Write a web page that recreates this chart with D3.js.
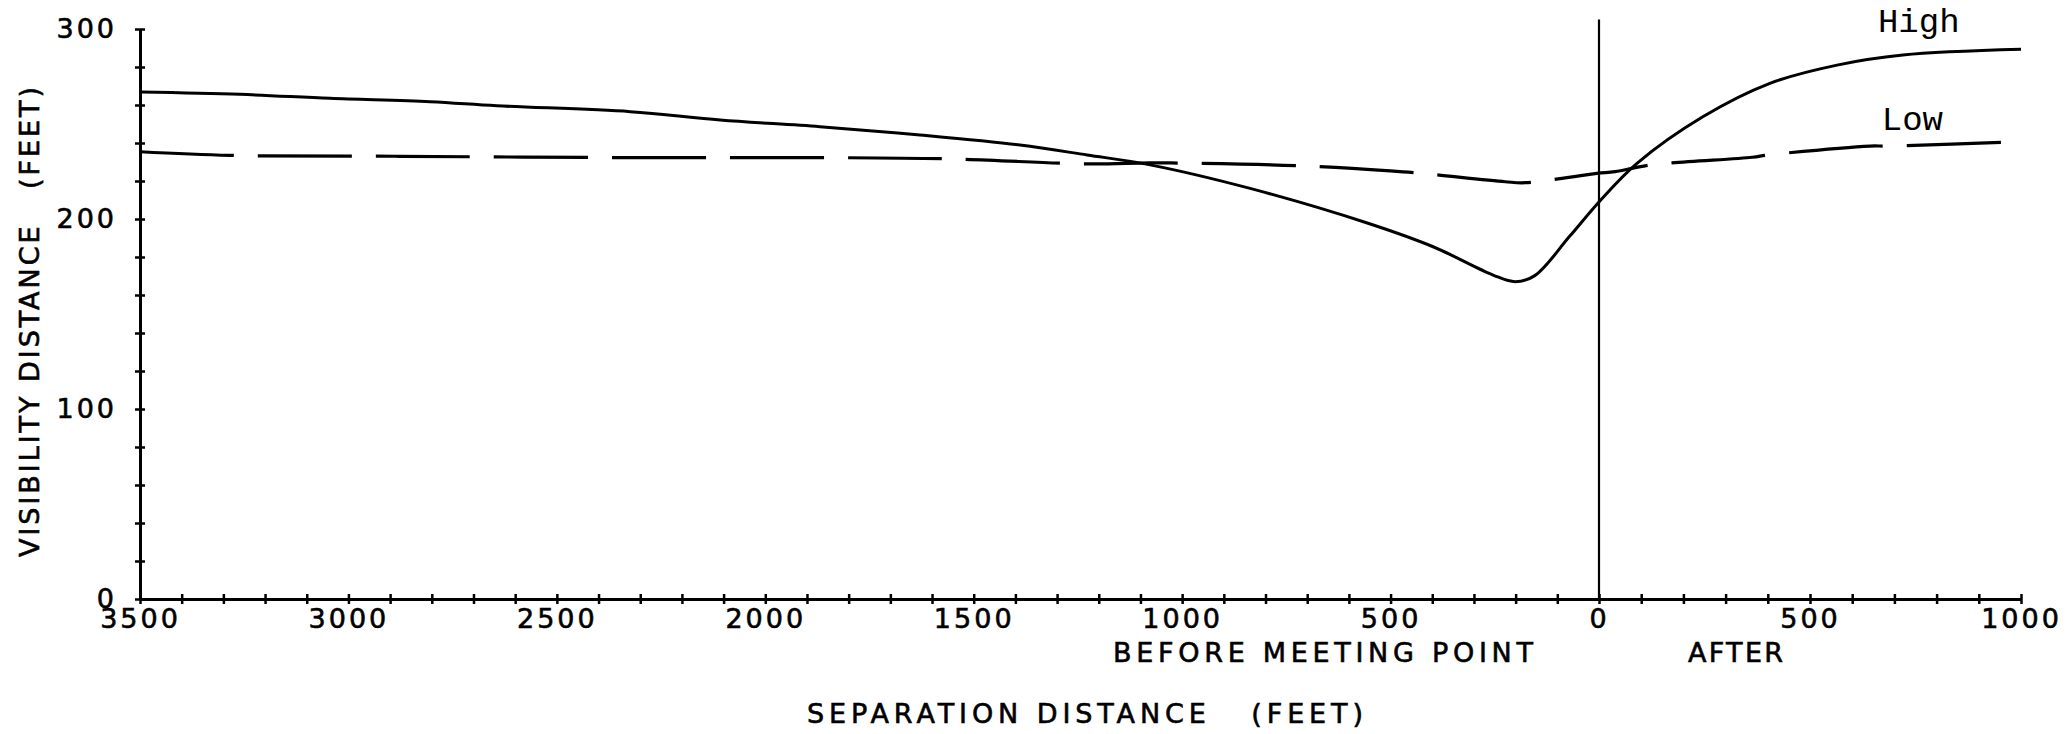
<!DOCTYPE html>
<html><head><meta charset="utf-8">
<script src="https://cdn.jsdelivr.net/npm/d3@7"></script>
<style>
html,body{margin:0;padding:0;background:#fff;}
svg{display:block;}
text{white-space:pre;}
</style>
</head><body>
<svg id="chart" width="2071" height="734"></svg>
<script>
// ---- Data (separation distance in feet: negative = before meeting point) ----
const highX = [-3500,-3260,-3044,-2804,-2644,-2324,-2108,-1869,-1629,-1389,-1228,-1077,-837,-556,-398,-254,-201,-154,-70,0,90,246,405,564,720,1000];
const highY = [266.8,265.6,263.5,261.7,259.6,256.5,252.1,248.6,244.2,238.9,233.7,228.5,216.1,197.9,185.4,170.5,167,170.2,191,209,229.3,253.8,271.4,281,286.3,289.3];
const lowX  = [-3500,-3284,-2876,-2324,-1869,-1550,-1228,-1077,-957,-717,-501,-425,-225,-177,-5,38,121,363,400,642,682,1000];
const lowY  = [235.4,233.5,233,232.3,232.3,231.6,229,229.5,229.3,228,225.3,224,219.6,219.1,224,224.9,228.4,232.5,233.7,238.4,238.4,240.7];
const xTickValues = d3.range(-3500, 1001, 100);
const xLabelValues = [-3500,-3000,-2500,-2000,-1500,-1000,-500,0,500,1000];
const yTickValues = d3.range(0, 301, 20);
const yLabelValues = [0,100,200,300];
const seriesNames = ["High","Low"];
const yTitle = "VISIBILITY DISTANCE   (FEET)";
const xTitle = "SEPARATION DISTANCE   (FEET)";
const beforeLabel = "BEFORE MEETING POINT";
const afterLabel = "AFTER";
const zeroLineTop = 305;

// ---- Scales ----
const x = d3.scaleLinear().domain([-3500, 0, 1000]).range([140, 1599, 2021]);
const y = d3.scaleLinear().domain([0, 300]).range([599, 29]);

const svg = d3.select("#chart");
const axisFont = "'DejaVu Sans', sans-serif";
function styleText(sel) {
  sel.attr("fill", "#000").attr("font-family", axisFont).attr("font-size", 27)
     .attr("stroke", "#000").attr("stroke-width", 0.6);
  return sel;
}

// ---- X axis ----
const gx = svg.append("g").attr("transform", `translate(0,${y(0)})`)
  .call(d3.axisBottom(x).tickValues(xTickValues).tickSizeInner(5).tickSizeOuter(0).tickPadding(5)
    .tickFormat(d => xLabelValues.includes(d) ? String(Math.abs(d)) : ""));
gx.select(".domain").attr("stroke", "#000").attr("stroke-width", 3);
gx.selectAll(".tick line").attr("y1", -5).attr("stroke", "#000").attr("stroke-width", 2.5);
styleText(gx.selectAll(".tick text")).attr("letter-spacing", "3px");

// ---- Y axis ----
const gy = svg.append("g").attr("transform", `translate(${x(-3500)},0)`)
  .call(d3.axisLeft(y).tickValues(yTickValues).tickSizeInner(5).tickSizeOuter(0).tickPadding(18)
    .tickFormat(d => yLabelValues.includes(d) ? String(d) : ""));
gy.select(".domain").attr("stroke", "#000").attr("stroke-width", 3);
gy.selectAll(".tick line").attr("x1", 5).attr("stroke", "#000").attr("stroke-width", 2.5);
styleText(gy.selectAll(".tick text")).attr("letter-spacing", "3px").attr("dy", "0.3em");

// ---- Zero (meeting point) line ----
svg.append("line").attr("x1", x(0)).attr("x2", x(0)).attr("y1", y(0)).attr("y2", y(zeroLineTop))
  .attr("stroke", "#000").attr("stroke-width", 2.2);

// ---- Series ----
const line = d3.line().x(d => x(d[0])).y(d => y(d[1])).curve(d3.curveCatmullRom.alpha(0.5));
const highData = highX.map((v, i) => [v, highY[i]]);
const lowData = lowX.map((v, i) => [v, lowY[i]]);

svg.append("path").datum(highData).attr("d", line)
  .attr("fill", "none").attr("stroke", "#000").attr("stroke-width", 3);
svg.append("path").datum(lowData).attr("d", line)
  .attr("fill", "none").attr("stroke", "#000").attr("stroke-width", 3.2)
  .attr("stroke-dasharray", "94,24");

// ---- Series labels ----
const labelFont = "'Liberation Mono', 'Courier New', monospace";
svg.append("text").attr("x", x(661)).attr("y", y(298.4)).text(seriesNames[0])
  .attr("font-family", labelFont).attr("font-size", 34).attr("fill", "#000");
svg.append("text").attr("x", x(670)).attr("y", y(246.8)).text(seriesNames[1])
  .attr("font-family", labelFont).attr("font-size", 34).attr("fill", "#000");

// ---- Titles ----
styleText(svg.append("text").attr("x", 1113).attr("y", 662).text(beforeLabel))
  .attr("textLength", 420).attr("lengthAdjust", "spacing");
styleText(svg.append("text").attr("x", 1688).attr("y", 662).text(afterLabel))
  .attr("textLength", 95).attr("lengthAdjust", "spacing");
styleText(svg.append("text").attr("x", 807).attr("y", 723).text(xTitle))
  .attr("textLength", 556).attr("lengthAdjust", "spacing");
styleText(svg.append("text").attr("transform", "translate(39,322) rotate(-90)").attr("text-anchor", "middle").text(yTitle))
  .attr("textLength", 470).attr("lengthAdjust", "spacing");
</script>
</body></html>
